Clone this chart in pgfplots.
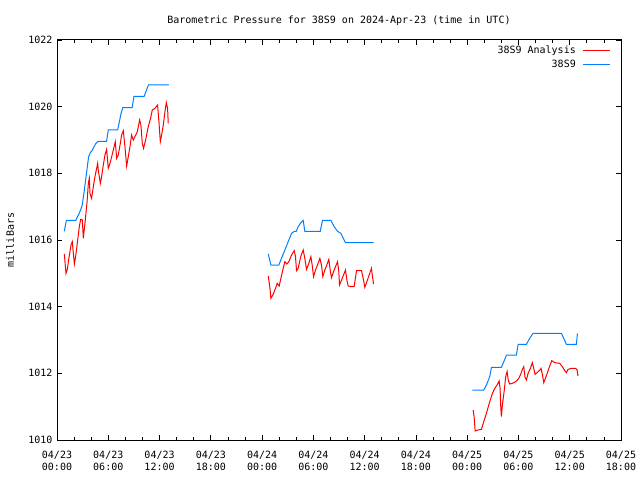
\documentclass[border=0pt]{standalone}
\usepackage{fontspec}
\setmainfont{DejaVu Sans Mono}
\usepackage{pgfplots}
\pgfplotsset{compat=1.18}
\definecolor{gpred}{rgb}{1,0,0}
\definecolor{gpblue}{RGB}{0,128,255}
\newcommand{\gpfont}{\fontsize{10}{12}\selectfont}
\begin{document}
\begin{tikzpicture}
\path[use as bounding box] (0,0) rectangle (640pt,480pt);
\node[font=\gpfont] at (339pt,459pt) {Barometric Pressure for 38S9 on 2024-Apr-23 (time in UTC)};
\node[font=\gpfont, rotate=90] at (10pt,240pt) {milliBars};
\begin{axis}[
  at={(57pt,40pt)}, anchor=south west,
  scale only axis, width=564pt, height=400pt,
  xmin=0, xmax=66, ymin=1010, ymax=1022,
  xtick={0,6,...,66},
  xticklabels={{04/23\\00:00},{04/23\\06:00},{04/23\\12:00},{04/23\\18:00},{04/24\\00:00},{04/24\\06:00},{04/24\\12:00},{04/24\\18:00},{04/25\\00:00},{04/25\\06:00},{04/25\\12:00},{04/25\\18:00}},
  minor x tick num=2,
  ytick={1010,1012,...,1022},
  yticklabels={1010,1012,1014,1016,1018,1020,1022},
  tick align=inside,
  major tick length=5pt, minor tick length=3pt,
  every tick/.style={black, line width=0.8pt},
  axis line style={line width=1pt},
  xticklabel style={font=\gpfont, align=center, yshift=-8pt},
  yticklabel style={font=\gpfont, xshift=-1pt},
  unbounded coords=jump,
  legend style={draw=none, fill=none, font=\gpfont, at={(1,1)}, anchor=north east, xshift=-7pt, yshift=-2pt, row sep=1pt, column sep=5pt},
  legend cell align=right,
  legend plot pos=right,
  legend image code/.code={\draw[#1] (0pt,0pt) -- (27pt,0pt);},
]
\addplot[gpred, line width=1pt] coordinates {
(0.86,1015.58) (1.05,1015.0) (1.21,1015.12) (1.33,1015.35) (1.64,1015.85) (1.79,1015.95) (2.03,1015.28) (2.18,1015.5) (2.42,1016.0) (2.61,1016.4) (2.77,1016.62) (2.96,1016.6) (3.08,1016.05) (3.27,1016.5) (3.51,1017.12) (3.67,1017.7) (3.78,1017.85) (3.86,1017.4) (4.05,1017.25) (4.25,1017.6) (4.44,1017.9) (4.76,1018.3) (4.83,1018.1) (5.07,1017.7) (5.22,1017.9) (5.42,1018.25) (5.61,1018.55) (5.81,1018.72) (6.0,1018.15) (6.2,1018.3) (6.4,1018.5) (6.59,1018.7) (6.82,1018.95) (6.98,1018.45) (7.17,1018.55) (7.41,1018.9) (7.56,1019.15) (7.76,1019.28) (7.95,1018.8) (8.15,1018.22) (8.34,1018.5) (8.54,1018.8) (8.73,1019.15) (8.93,1019.0) (9.12,1019.1) (9.4,1019.25) (9.67,1019.6) (9.82,1019.45) (9.98,1018.9) (10.13,1018.75) (10.37,1019.0) (10.68,1019.4) (10.95,1019.65) (11.15,1019.9) (11.46,1019.95) (11.77,1020.05) (11.93,1019.55) (12.09,1018.95) (12.24,1019.15) (12.44,1019.45) (12.63,1019.85) (12.79,1020.12) (12.94,1019.95) (13.02,1019.5)
(20,nan)
(24.72,1014.92) (24.91,1014.58) (25.03,1014.25) (25.3,1014.37) (25.57,1014.55) (25.77,1014.7) (26.0,1014.62) (26.2,1014.85) (26.47,1015.15) (26.67,1015.35) (26.9,1015.28) (27.13,1015.35) (27.45,1015.55) (27.76,1015.68) (27.91,1015.5) (28.03,1015.08) (28.22,1015.15) (28.54,1015.52) (28.81,1015.7) (29.0,1015.45) (29.2,1015.12) (29.47,1015.3) (29.71,1015.5) (29.86,1015.25) (30.02,1014.9) (30.25,1015.1) (30.48,1015.25) (30.76,1015.45) (30.95,1015.25) (31.11,1014.9) (31.34,1015.1) (31.58,1015.25) (31.81,1015.42) (31.97,1015.1) (32.12,1014.87) (32.36,1015.05) (32.59,1015.2) (32.83,1015.35) (32.98,1015.05) (33.06,1014.65) (33.3,1014.8) (33.53,1014.95) (33.76,1015.1) (33.92,1014.8) (34.07,1014.62) (34.46,1014.6) (34.77,1014.6) (35.05,1015.08) (35.63,1015.08) (35.87,1014.8) (36.02,1014.58) (36.26,1014.75) (36.49,1014.92) (36.8,1015.15) (36.92,1014.9) (37.04,1014.68)
(42,nan)
(48.7,1010.9) (48.81,1010.7) (48.93,1010.27) (49.28,1010.3) (49.67,1010.32) (49.94,1010.55) (50.25,1010.8) (50.64,1011.15) (50.96,1011.4) (51.23,1011.55) (51.5,1011.65) (51.74,1011.77) (51.85,1011.55) (51.93,1011.0) (52.0,1010.7) (52.12,1011.05) (52.32,1011.45) (52.51,1011.9) (52.67,1012.05) (52.82,1011.78) (52.98,1011.68) (53.29,1011.7) (53.68,1011.75) (53.96,1011.82) (54.23,1011.95) (54.46,1012.12) (54.62,1012.2) (54.77,1011.88) (54.93,1011.8) (55.13,1012.0) (55.4,1012.15) (55.63,1012.32) (55.79,1012.15) (55.95,1011.97) (56.18,1012.02) (56.5,1012.1) (56.65,1012.15) (56.81,1011.95) (56.96,1011.72) (57.2,1011.88) (57.43,1012.05) (57.66,1012.22) (57.9,1012.38) (58.25,1012.32) (58.83,1012.3) (59.14,1012.2) (59.42,1012.08) (59.61,1012.02) (59.81,1012.12) (60.2,1012.15) (60.7,1012.15) (60.86,1012.1) (60.97,1011.92)
};
\addlegendentry{38S9 Analysis}
\addplot[gpblue, line width=1pt] coordinates {
(0.85,1016.26) (1.1,1016.59) (2.2,1016.59) (2.4,1016.70) (2.6,1016.80) (2.8,1016.93) (2.95,1017.05) (3.15,1017.4) (3.35,1017.8) (3.55,1018.2) (3.7,1018.5) (3.9,1018.62) (4.1,1018.68) (4.3,1018.78) (4.5,1018.88) (4.8,1018.96) (5.8,1018.96) (6.0,1019.30) (7.1,1019.30) (7.3,1019.55) (7.5,1019.8) (7.7,1019.97) (8.8,1019.97) (9.0,1020.31) (10.2,1020.31) (10.4,1020.45) (10.7,1020.65) (13.1,1020.65)
(20,nan)
(24.72,1015.58) (25.03,1015.25) (25.96,1015.25) (26.27,1015.45) (26.67,1015.7) (27.05,1015.95) (27.45,1016.2) (27.76,1016.26) (28.0,1016.26) (28.22,1016.4) (28.54,1016.52) (28.81,1016.59) (29.0,1016.26) (30.8,1016.26) (31.07,1016.59) (32.05,1016.59) (32.44,1016.4) (32.83,1016.26) (33.22,1016.2) (33.69,1015.95) (33.76,1015.92) (37.04,1015.92)
(42,nan)
(48.62,1011.5) (49.94,1011.5) (50.25,1011.65) (50.64,1011.9) (50.84,1012.18) (52.0,1012.18) (52.4,1012.42) (52.6,1012.55) (53.76,1012.55) (53.96,1012.87) (54.93,1012.87) (55.32,1013.05) (55.71,1013.2) (59.03,1013.2) (59.3,1013.05) (59.61,1012.87) (60.78,1012.87) (60.9,1013.2)
};
\addlegendentry{38S9}
\end{axis}
\end{tikzpicture}
\end{document}
